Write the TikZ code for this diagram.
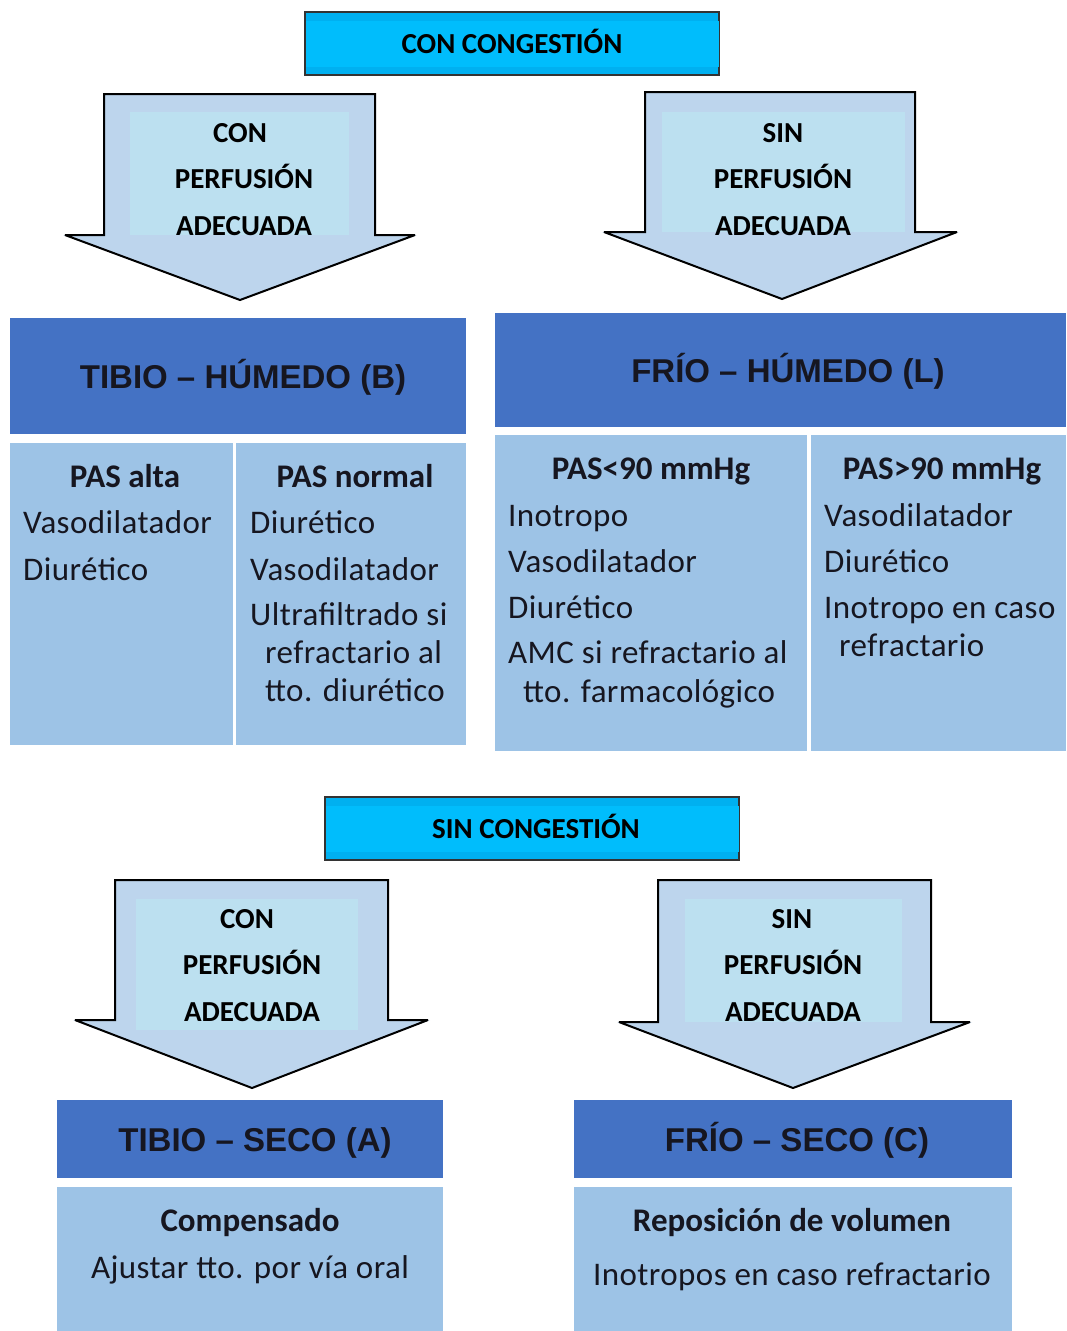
\documentclass[tikz,border=0pt]{standalone}
\usepackage{fontspec}
\setmainfont{Carlito}
\newfontfamily\hdrfont{Liberation Sans}
\newfontfamily\bodyfont{Carlito}[LetterSpace=1.3]
\definecolor{cyanbar}{RGB}{0,176,240}
\definecolor{cyanband}{RGB}{0,189,252}
\definecolor{arrowfill}{RGB}{189,213,237}
\definecolor{arrowinner}{RGB}{188,224,240}
\definecolor{hdrblue}{RGB}{68,114,196}
\definecolor{cellblue}{RGB}{157,195,230}
\definecolor{ink}{RGB}{22,22,32}
\tikzset{
  bannerbox/.style={fill=cyanbar,draw=black!80,line width=1.2pt},
  arrowst/.style={draw=black,line width=2pt,line join=miter,miter limit=4},
  hdrbox/.style={fill=hdrblue},
  cellbox/.style={fill=cellblue},
  bantxt/.style={inner sep=0pt,text height=18.7pt,text depth=0pt,font=\fontsize{29}{34}\selectfont\bfseries,text=black},
  arrtxt/.style={inner sep=0pt,text height=18.7pt,text depth=0pt,font=\fontsize{29}{34}\selectfont\bfseries,text=black},
  hdrtxt/.style={inner sep=0pt,text height=23.6pt,text depth=0pt,font=\hdrfont\fontsize{33}{40}\selectfont\bfseries,text=ink},
  celltxt/.style={inner sep=0pt,text height=21.3pt,text depth=0pt,font=\bodyfont\fontsize{33}{40}\selectfont,text=ink},
  cellbold/.style={inner sep=0pt,text height=21.3pt,text depth=0pt,font=\fontsize{33}{40}\selectfont\bfseries,text=ink},
}
\begin{document}
\begin{tikzpicture}[x=1pt,y=-1pt]
\useasboundingbox (0,0) rectangle (1066,1331);
\fill[white] (0,0) rectangle (1066,1331);

% ---------- CON CONGESTION ----------
\draw[bannerbox] (305,12) rectangle (719,75);
\fill[cyanband] (306,21) rectangle (719,67);
\node[bantxt] (b1) at (512,44) {CON CONGESTIÓN};

% arrow top-left
\fill[arrowfill] (104,94) -- (375,94) -- (375,235) -- (417,235) -- (240,300) -- (63,235) -- (104,235) -- cycle;
\fill[arrowinner] (130,112) rectangle (349,235);
\draw[arrowst] (104,94) -- (375,94) -- (375,235) -- (415,235) -- (240,300) -- (65,235) -- (104,235) -- cycle;
\node[arrtxt] (a1l1) at (240,133) {CON};
\node[arrtxt] (a1l2) at (244,179) {PERFUSIÓN};
\node[arrtxt] (a1l3) at (244,226) {ADECUADA};

% arrow top-right
\fill[arrowfill] (645,92) -- (915,92) -- (915,232) -- (959,232) -- (782,299) -- (602,232) -- (645,232) -- cycle;
\fill[arrowinner] (662,112) rectangle (905,232);
\draw[arrowst] (645,92) -- (915,92) -- (915,232) -- (957,232) -- (782,299) -- (604,232) -- (645,232) -- cycle;
\node[arrtxt] (a2l1) at (783,133) {SIN};
\node[arrtxt] (a2l2) at (783,179) {PERFUSIÓN};
\node[arrtxt] (a2l3) at (783,226) {ADECUADA};

% TIBIO - HUMEDO (B)
\fill[hdrbox] (10,318) rectangle (466,434);
\fill[cellbox] (10,443) rectangle (233,745);
\fill[cellbox] (236,443) rectangle (466,745);
\node[hdrtxt] (hB) at (243,377) {TIBIO – HÚMEDO (B)};
\node[cellbold] (b1h) at (125,477) {PAS alta};
\node[celltxt,anchor=west] (b1a) at (23,523) {Vasodilatador};
\node[celltxt,anchor=west] (b1b) at (23,570) {Diurético};
\node[cellbold] (b2h) at (355,477) {PAS normal};
\node[celltxt,anchor=west] (b2a) at (250,523) {Diurético};
\node[celltxt,anchor=west] (b2b) at (250,570) {Vasodilatador};
\node[celltxt,anchor=west] (b2c) at (250,615) {Ultrafiltrado si};
\node[celltxt,anchor=west] (b2d) at (265,653) {refractario al};
\node[celltxt,anchor=west] (b2e) at (265,691) {tto. diurético};

% FRIO - HUMEDO (L)
\fill[hdrbox] (495,313) rectangle (1066,427);
\fill[cellbox] (495,435) rectangle (807,751);
\fill[cellbox] (811,435) rectangle (1066,751);
\node[hdrtxt] (hL) at (788,371) {FRÍO – HÚMEDO (L)};
\node[cellbold] (l1h) at (651,469) {PAS<90 mmHg};
\node[celltxt,anchor=west] (l1a) at (508,516) {Inotropo};
\node[celltxt,anchor=west] (l1b) at (508,562) {Vasodilatador};
\node[celltxt,anchor=west] (l1c) at (508,608) {Diurético};
\node[celltxt,anchor=west] (l1d) at (508,653) {AMC si refractario al};
\node[celltxt,anchor=west] (l1e) at (523,692) {tto. farmacológico};
\node[cellbold] (l2h) at (942,469) {PAS>90 mmHg};
\node[celltxt,anchor=west] (l2a) at (824,516) {Vasodilatador};
\node[celltxt,anchor=west] (l2b) at (824,562) {Diurético};
\node[celltxt,anchor=west] (l2c) at (824,608) {Inotropo en caso};
\node[celltxt,anchor=west] (l2d) at (839,646) {refractario};

% ---------- SIN CONGESTION ----------
\draw[bannerbox] (325,797) rectangle (739,860);
\fill[cyanband] (326,806) rectangle (739,852);
\node[bantxt] (b2) at (536,829) {SIN CONGESTIÓN};

% arrow bottom-left
\fill[arrowfill] (115,880) -- (388,880) -- (388,1020) -- (430,1020) -- (252,1088) -- (73,1020) -- (115,1020) -- cycle;
\fill[arrowinner] (136,899) rectangle (358,1030);
\draw[arrowst] (115,880) -- (388,880) -- (388,1020) -- (428,1020) -- (252,1088) -- (75,1020) -- (115,1020) -- cycle;
\node[arrtxt] (a3l1) at (247,919) {CON};
\node[arrtxt] (a3l2) at (252,965) {PERFUSIÓN};
\node[arrtxt] (a3l3) at (252,1012) {ADECUADA};

% arrow bottom-right
\fill[arrowfill] (658,880) -- (931,880) -- (931,1022) -- (972,1022) -- (793,1088) -- (617,1022) -- (658,1022) -- cycle;
\fill[arrowinner] (685,899) rectangle (902,1022);
\draw[arrowst] (658,880) -- (931,880) -- (931,1022) -- (970,1022) -- (793,1088) -- (619,1022) -- (658,1022) -- cycle;
\node[arrtxt] (a4l1) at (792,919) {SIN};
\node[arrtxt] (a4l2) at (793,965) {PERFUSIÓN};
\node[arrtxt] (a4l3) at (793,1012) {ADECUADA};

% TIBIO - SECO (A)
\fill[hdrbox] (57,1100) rectangle (443,1178);
\fill[cellbox] (57,1187) rectangle (443,1331);
\node[hdrtxt] (hA) at (255,1140) {TIBIO – SECO (A)};
\node[cellbold] (a1) at (250,1221) {Compensado};
\node[celltxt] (a2) at (250,1268) {Ajustar tto. por vía oral};

% FRIO - SECO (C)
\fill[hdrbox] (574,1100) rectangle (1012,1178);
\fill[cellbox] (574,1187) rectangle (1012,1331);
\node[hdrtxt] (hC) at (797,1140) {FRÍO – SECO (C)};
\node[cellbold] (c1) at (792,1221) {Reposición de volumen};
\node[celltxt] (c2) at (792,1275) {Inotropos en caso refractario};
\end{tikzpicture}
\end{document}
